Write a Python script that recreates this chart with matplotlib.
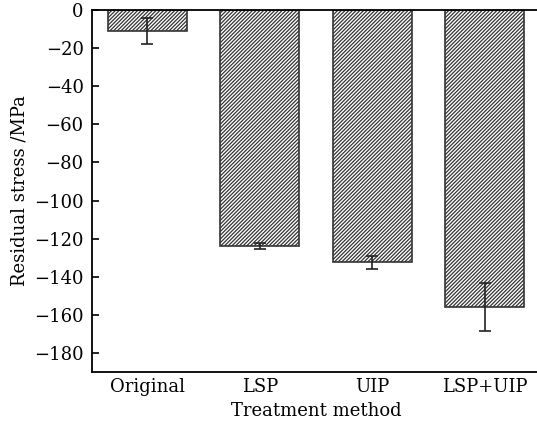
import numpy as np
import matplotlib.pyplot as plt

methods = ["Original", "LSP", "UIP", "LSP+UIP"]
stress = [-11, -124, -132.5, -156]
err = [7, 1.7, 3.6, 12.7]

plt.rcParams['font.family'] = ['DejaVu Serif']
plt.rcParams['hatch.linewidth'] = 0.9
plt.rcParams['hatch.color'] = '#444444'

fig = plt.figure(figsize=(5.37, 4.28), dpi=100)
ax = fig.add_axes([92 / 537, 1 - 372 / 428, 448 / 537, 362 / 428])

x = np.arange(len(methods))
ax.bar(x, stress, width=0.7, color='white', edgecolor='#333333', linewidth=1.2,
       hatch='/' * 9, zorder=2)
ax.errorbar(x, stress, yerr=err, fmt='none', ecolor='#222222', elinewidth=1.2,
            capsize=4, capthick=1.2, zorder=3)

ax.set_xlim(-0.49, 3.49)
ax.set_ylim(-190, 0)
ax.set_yticks(np.arange(-180, 1, 20))
ax.set_xticks(x)
ax.set_xticklabels(methods)
ax.tick_params(axis='y', direction='in', length=5, width=1.2, labelsize=13, pad=6)
ax.tick_params(axis='x', length=0, labelsize=13, pad=4)
for s in ax.spines.values():
    s.set_linewidth(1.3)
ax.spines['right'].set_visible(False)

ax.set_xlabel("Treatment method", fontsize=13, labelpad=5)
ax.set_ylabel("Residual stress /MPa", fontsize=13, labelpad=4)

fig.savefig("out.png", dpi=100)
